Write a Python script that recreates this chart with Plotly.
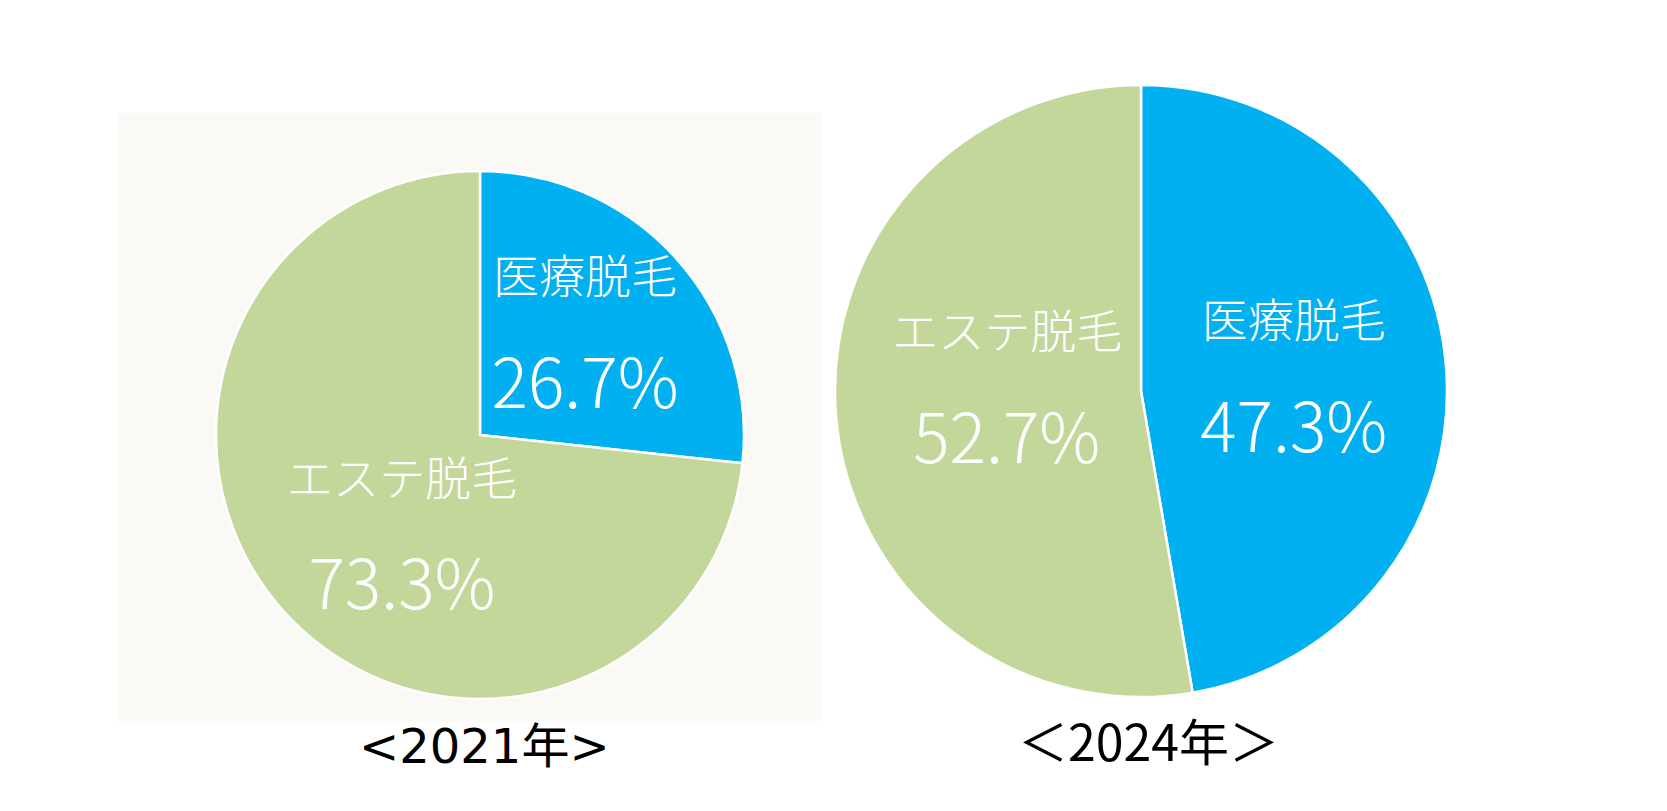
import plotly.graph_objects as go

# 脱毛の割合 (2021年 / 2024年)
labels = ["医療脱毛", "エステ脱毛"]
share_2021 = [26.7, 73.3]
share_2024 = [47.3, 52.7]
titles = ["<2021年>", "＜2024年＞"]

colors = ["#00B0F0", "#C4D79B"]
font_jp = "Noto Sans CJK JP"
W, H = 1667, 811


def spacer(px, n=1):
    # 全角スペースによる空白 (ラベル位置の微調整用)
    return f"<span style='font-size:{px}px'>{chr(0x3000) * n}</span>" if px else ""


def label_tpl(top=("", ""), bottom=("", ""), lift=False):
    tpl = (top[0] + "<span style='font-size:46px'>%{label}</span>" + top[1] +
           "<br><br>" +
           bottom[0] + "<span style='font-size:68px'>%{percent:.1%}</span>" + bottom[1])
    if lift:
        tpl += "<br>" + spacer(10)
    return tpl


def make_pie(values, domain, templates):
    return go.Pie(
        labels=labels,
        values=values,
        sort=False,
        direction="clockwise",
        rotation=0,
        marker=dict(colors=colors, line=dict(color="white", width=2.5)),
        texttemplate=templates,
        textposition="inside",
        insidetextorientation="horizontal",
        textfont=dict(family=font_jp, size=44, color="white", weight=300),
        hoverinfo="label+percent",
        domain=domain,
        showlegend=False,
    )


tpl_2021 = [
    label_tpl(top=("", spacer(15)), bottom=("", spacer(15))),
    label_tpl(top=("", spacer(52, 3)), bottom=("", spacer(52, 3)), lift=True),
]
tpl_2024 = [
    label_tpl(),
    label_tpl(top=(spacer(77), spacer(28, 2)), bottom=(spacer(40), spacer(20)), lift=True),
]

fig = go.Figure()
fig.add_trace(make_pie(share_2021, dict(x=[208 / W, 736 / W], y=[1 - 691 / H, 1 - 163 / H]), tpl_2021))
fig.add_trace(make_pie(share_2024, dict(x=[827 / W, 1439 / W], y=[1 - 689 / H, 1 - 77 / H]), tpl_2024))

fig.update_layout(
    width=W,
    height=H,
    margin=dict(l=0, r=0, t=0, b=0),
    paper_bgcolor="white",
    plot_bgcolor="white",
    font=dict(family=font_jp),
    uniformtext=dict(mode="show", minsize=44),
    shapes=[
        # 2021年のグラフの背景
        dict(type="rect", xref="paper", yref="paper", layer="below",
             x0=110 / W, x1=814 / W, y0=1 - 713 / H, y1=1 - 105 / H,
             fillcolor="#FAF9F5", line=dict(width=0)),
    ],
    annotations=[
        dict(text=titles[0], x=476 / W, y=1 - 738 / H, xref="paper", yref="paper",
             xanchor="center", yanchor="middle", showarrow=False,
             font=dict(family="DejaVu Sans, " + font_jp, size=48, color="black")),
        dict(text=titles[1], x=1140 / W, y=1 - 731 / H, xref="paper", yref="paper",
             xanchor="center", yanchor="middle", showarrow=False,
             font=dict(family=font_jp, size=50, color="black")),
    ],
)

fig.write_html("out.html")
